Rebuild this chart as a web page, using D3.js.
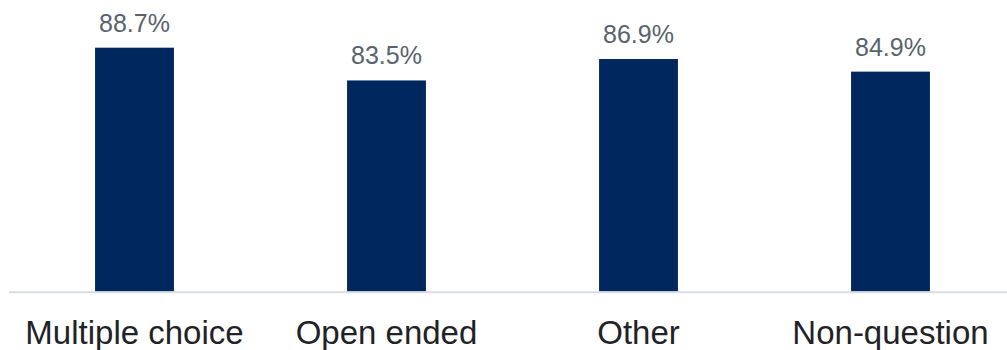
<!DOCTYPE html>
<html>
<head>
<meta charset="utf-8">
<script src="https://cdn.jsdelivr.net/npm/d3@7"></script>
<style>
  body { margin: 0; background: #fff; }
  svg { display: block; font-family: "Liberation Sans", Arial, sans-serif; }
</style>
</head>
<body>
<svg id="chart" width="1007" height="350"></svg>
<script>
// data
const categories = ["Multiple choice", "Open ended", "Other", "Non-question"];
const values = [88.7, 83.5, 86.9, 84.9];

const svg = d3.select("#chart");
const baseline = 291.5;

// x bands, step ~252px, bar ~79px
let x = d3.scaleBand()
    .domain(categories)
    .range([8.5, 1016.5])
    .paddingInner(0.687)
    .paddingOuter(0.3435);

// y axis does not start at zero
let y = d3.scaleLinear()
    .domain([50, 95])
    .range([baseline, 8]);

// bars
svg.selectAll("rect.bar")
    .data(values)
    .enter()
    .append("rect")
    .attr("class", "bar")
    .attr("x", (d, i) => x(categories[i]))
    .attr("y", d => y(d))
    .attr("width", x.bandwidth())
    .attr("height", d => baseline - y(d))
    .style("fill", "#00275e");

// baseline
svg.append("line")
    .attr("x1", 9)
    .attr("x2", 1007)
    .attr("y1", baseline + 0.8)
    .attr("y2", baseline + 0.8)
    .style("stroke", "#d9dde3")
    .style("stroke-width", 2);

// value labels
svg.selectAll("text.val")
    .data(values)
    .enter()
    .append("text")
    .attr("class", "val")
    .attr("x", (d, i) => x(categories[i]) + x.bandwidth() / 2)
    .attr("y", d => y(d) - 16)
    .attr("text-anchor", "middle")
    .style("font-size", "25px")
    .style("fill", "#58636d")
    .text(d => d.toFixed(1) + "%");

// category labels
svg.selectAll("text.cat")
    .data(categories)
    .enter()
    .append("text")
    .attr("class", "cat")
    .attr("x", d => x(d) + x.bandwidth() / 2)
    .attr("y", 344)
    .attr("text-anchor", "middle")
    .style("font-size", "33px")
    .style("fill", "#1f2226")
    .text(d => d);
</script>
</body>
</html>
